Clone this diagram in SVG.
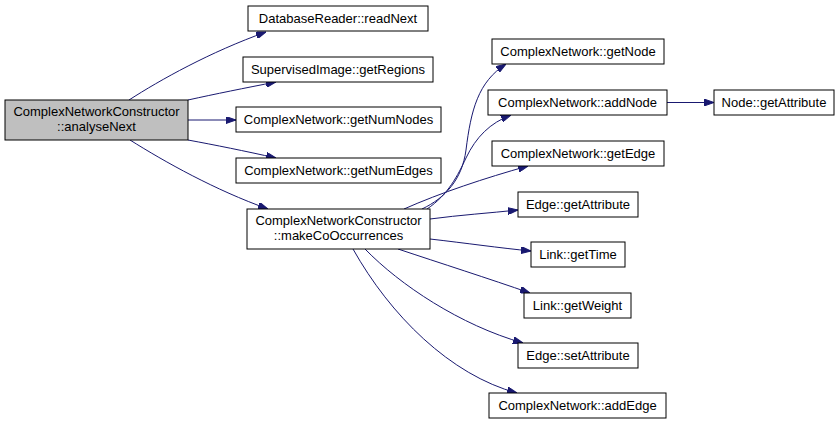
<svg xmlns="http://www.w3.org/2000/svg" width="840" height="425" viewBox="0 0 840 425">
<defs>
<style>
.n rect{fill:#ffffff;stroke:#000000;stroke-width:1}
.n text{font-family:"Liberation Sans",Arial,Helvetica,sans-serif;font-size:13px;fill:#000000;text-anchor:middle}
.e path{fill:none;stroke:#191970;stroke-width:1;marker-end:url(#arr)}
</style>
<marker id="arr" viewBox="0 0 10 7" refX="10" refY="3.5" markerWidth="10" markerHeight="7" markerUnits="userSpaceOnUse" orient="auto">
<path d="M0,0 L10,3.5 L0,7 z" fill="#191970" stroke="#191970" stroke-width="1"/>
</marker>
</defs>
<rect width="840" height="425" fill="#ffffff"/>
<g class="e" id="edges">
<path d="M129,100 C160,80 210,52 266,32"/>
<path d="M188,100 C215,94 245,88 276,82"/>
<path d="M188,120 L236,120"/>
<path d="M188,140 C215,145 245,151 276,158"/>
<path d="M130,140 C165,162 215,190 268,209"/>
<path d="M422,209 C445,198 462,180 466,150 C471,110 478,82 506,64"/>
<path d="M427,209 C448,195 458,175 466,158 C476,137 490,123 511,115"/>
<path d="M404,209 C440,193 485,178 528,166"/>
<path d="M430,219 C460,215 490,213 518,210"/>
<path d="M430,239 C465,243 500,248 531,251"/>
<path d="M398,249 C440,263 490,279 530,293"/>
<path d="M365,249 C400,285 460,325 523,343"/>
<path d="M353,249 C390,315 450,375 517,393"/>
<path d="M667,102.5 L714,102.5"/>
</g>
<g class="n" id="root"><rect x="5" y="100" width="183" height="40" style="fill:#bfbfbf"/><text x="96.5" y="116">ComplexNetworkConstructor</text><text x="96.5" y="131">::analyseNext</text></g>
<g class="n" id="readNext"><rect x="248" y="6" width="180" height="25"/><text x="338" y="23">DatabaseReader::readNext</text></g>
<g class="n" id="getRegions"><rect x="243" y="57" width="190" height="25"/><text x="338" y="74">SupervisedImage::getRegions</text></g>
<g class="n" id="getNumNodes"><rect x="236" y="107" width="205" height="25"/><text x="338.5" y="124">ComplexNetwork::getNumNodes</text></g>
<g class="n" id="getNumEdges"><rect x="236" y="158" width="205" height="25"/><text x="338.5" y="175">ComplexNetwork::getNumEdges</text></g>
<g class="n" id="makeCoOccurrences"><rect x="247" y="209" width="183" height="40"/><text x="338.5" y="225">ComplexNetworkConstructor</text><text x="338.5" y="240">::makeCoOccurrences</text></g>
<g class="n" id="getNode"><rect x="492" y="39" width="172" height="25"/><text x="578" y="56">ComplexNetwork::getNode</text></g>
<g class="n" id="addNode"><rect x="488" y="90" width="179" height="25"/><text x="577.5" y="107">ComplexNetwork::addNode</text></g>
<g class="n" id="nodeGetAttribute"><rect x="714" y="90" width="120" height="25"/><text x="774" y="107">Node::getAttribute</text></g>
<g class="n" id="getEdge"><rect x="492" y="141" width="172" height="25"/><text x="578" y="158">ComplexNetwork::getEdge</text></g>
<g class="n" id="edgeGetAttribute"><rect x="518" y="192" width="120" height="25"/><text x="578" y="209">Edge::getAttribute</text></g>
<g class="n" id="getTime"><rect x="531" y="242" width="94" height="25"/><text x="578" y="259">Link::getTime</text></g>
<g class="n" id="getWeight"><rect x="524" y="293" width="107" height="25"/><text x="577.5" y="310">Link::getWeight</text></g>
<g class="n" id="setAttribute"><rect x="518" y="343" width="120" height="25"/><text x="578" y="360">Edge::setAttribute</text></g>
<g class="n" id="addEdge"><rect x="489" y="393" width="177" height="25"/><text x="577.5" y="410">ComplexNetwork::addEdge</text></g>
</svg>
